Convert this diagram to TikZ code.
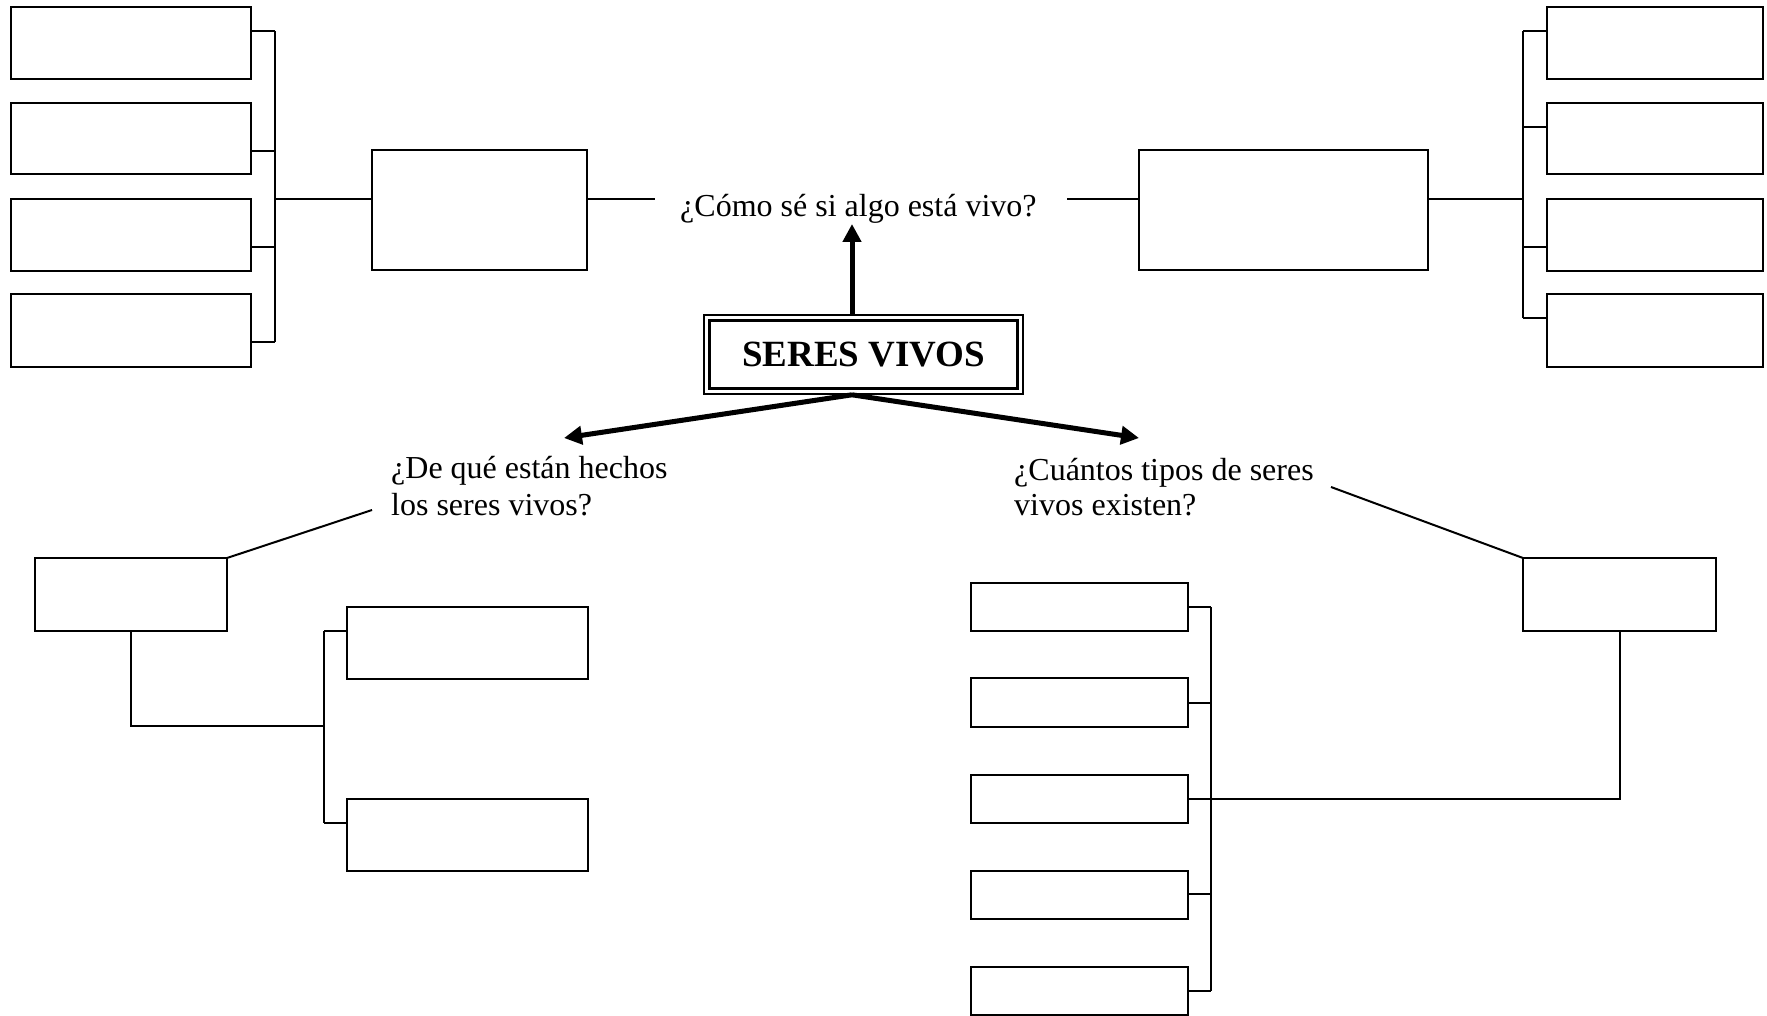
\documentclass[tikz,border=0pt]{standalone}
\usepackage{fontspec}
\setmainfont{Liberation Serif}
\usetikzlibrary{arrows.meta}

\tikzset{
  blank/.style={draw, line width=2pt, inner sep=0pt, outer sep=0pt, anchor=north west},
  link/.style={line width=2pt},
  heavy/.style={line width=5pt, -{Triangle[length=18pt,width=18pt]}},
  qtext/.style={font=\fontsize{32}{37}\selectfont, inner sep=0pt, anchor=base west},
}

\begin{document}
\begin{tikzpicture}[x=1pt, y=-1pt]
\useasboundingbox (0,0) rectangle (1767,1016);

% ---------- centre ----------
\node[draw, line width=1.6pt, minimum width=319pt, minimum height=79pt, inner sep=0pt,
      font=\fontsize{37}{40}\selectfont\bfseries] (sv) at (863.5,354.5) {SERES VIVOS};
\draw[line width=3pt] ([shift={(6,6)}]sv.north west) rectangle ([shift={(-6,-6)}]sv.south east);

\node[qtext] (q1) at (680,217) {¿Cómo sé si algo está vivo?};
\node[qtext] (q2a) at (391,478) {¿De qué están hechos};
\node[qtext] (q2b) at (391,515) {los seres vivos?};
\node[qtext] (q3a) at (1014,480) {¿Cuántos tipos de seres};
\node[qtext] (q3b) at (1014,515) {vivos existen?};

\coordinate (q1tip) at (852,224);
\coordinate (q2tip) at (564,438);
\coordinate (q3tip) at (1139,438);
\draw[heavy] (sv.north -| q1tip) -- (q1tip);
\draw[heavy] (sv.south -| q1tip) -- (q2tip);
\draw[heavy] (sv.south -| q1tip) -- (q3tip);

% ---------- upper left group ----------
\node[blank, minimum width=240pt, minimum height=72pt] (L1) at (11,7) {};
\node[blank, minimum width=240pt, minimum height=71pt] (L2) at (11,103) {};
\node[blank, minimum width=240pt, minimum height=72pt] (L3) at (11,199) {};
\node[blank, minimum width=240pt, minimum height=73pt] (L4) at (11,294) {};
\node[blank, minimum width=215pt, minimum height=120pt] (LM) at (372,150) {};

\coordinate (lb1) at (275,31);
\coordinate (lb2) at (275,151);
\coordinate (lb3) at (275,247);
\coordinate (lb4) at (275,342);
\coordinate (lbm) at (275,199);
\draw[link] (lb1) -- (lb4);
\foreach \n in {1,...,4} \draw[link] (L\n.east |- lb\n) -- (lb\n);
\draw[link] (lbm) -- (LM.west |- lbm);
\coordinate (q1l) at (655,199);
\draw[link] (LM.east |- q1l) -- (q1l);

% ---------- upper right group ----------
\node[blank, minimum width=289pt, minimum height=120pt] (RM) at (1139,150) {};
\node[blank, minimum width=216pt, minimum height=72pt] (R1) at (1547,7) {};
\node[blank, minimum width=216pt, minimum height=71pt] (R2) at (1547,103) {};
\node[blank, minimum width=216pt, minimum height=72pt] (R3) at (1547,199) {};
\node[blank, minimum width=216pt, minimum height=73pt] (R4) at (1547,294) {};

\coordinate (q1r) at (1067,199);
\draw[link] (q1r) -- (RM.west |- q1r);
\coordinate (rb1) at (1523,31);
\coordinate (rb2) at (1523,127);
\coordinate (rb3) at (1523,247);
\coordinate (rb4) at (1523,318);
\coordinate (rbm) at (1523,199);
\draw[link] (RM.east |- rbm) -- (rbm);
\draw[link] (rb1) -- (rb4);
\foreach \n in {1,...,4} \draw[link] (rb\n) -- (R\n.west |- rb\n);

% ---------- lower left group ----------
\node[blank, minimum width=192pt, minimum height=73pt] (BL) at (35,558) {};
\node[blank, minimum width=241pt, minimum height=72pt] (BL1) at (347,607) {};
\node[blank, minimum width=241pt, minimum height=72pt] (BL2) at (347,799) {};

\coordinate (q2end) at (372,510);
\draw[link] (BL.north east) -- (q2end);
\coordinate (bb1) at (324,631);
\coordinate (bb2) at (324,823);
\coordinate (bbm) at (324,726);
\draw[link] (BL.south) |- (bbm);
\draw[link] (bb1) -- (bb2);
\draw[link] (bb1) -- (BL1.west |- bb1);
\draw[link] (bb2) -- (BL2.west |- bb2);

% ---------- lower right group ----------
\node[blank, minimum width=193pt, minimum height=73pt] (RB) at (1523,558) {};
\node[blank, minimum width=217pt, minimum height=48pt] (BR1) at (971,583) {};
\node[blank, minimum width=217pt, minimum height=49pt] (BR2) at (971,678) {};
\node[blank, minimum width=217pt, minimum height=48pt] (BR3) at (971,775) {};
\node[blank, minimum width=217pt, minimum height=48pt] (BR4) at (971,871) {};
\node[blank, minimum width=217pt, minimum height=48pt] (BR5) at (971,967) {};

\coordinate (q3end) at (1331,487);
\draw[link] (q3end) -- (RB.north west);
\coordinate (br1) at (1211,607);
\coordinate (br2) at (1211,703);
\coordinate (br3) at (1211,799);
\coordinate (br4) at (1211,894);
\coordinate (br5) at (1211,991);
\draw[link] (RB.south) |- (br3);
\draw[link] (br1) -- (br5);
\foreach \n in {1,...,5} \draw[link] (BR\n.east |- br\n) -- (br\n);
\end{tikzpicture}
\end{document}
